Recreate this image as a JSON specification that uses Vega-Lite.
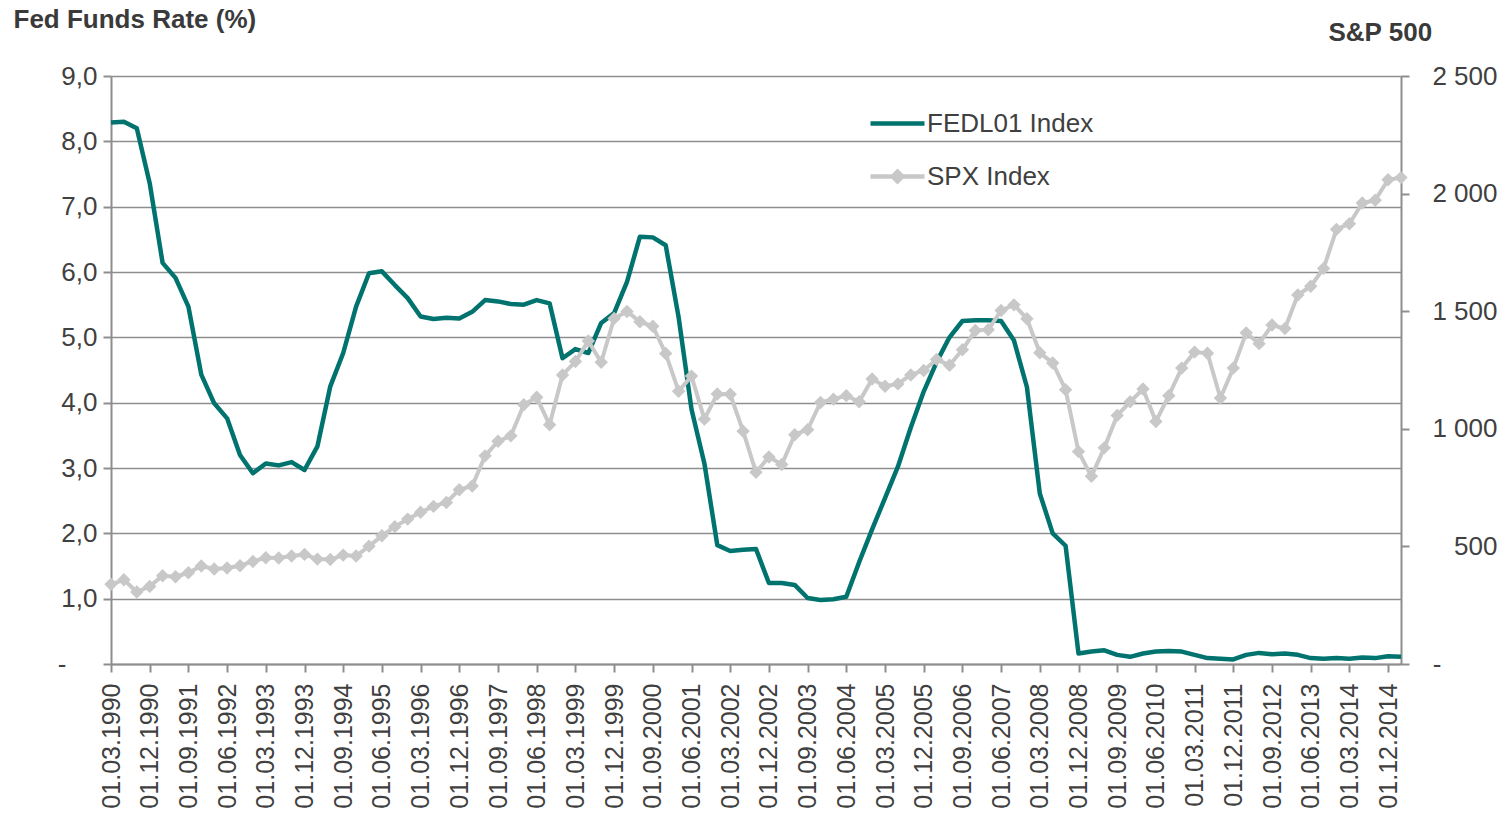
{
  "$schema": "https://vega.github.io/schema/vega-lite/v6.json",
  "autosize": "none",
  "width": 1290,
  "height": 588,
  "padding": {"left": 111, "top": 76, "right": 102, "bottom": 152},
  "background": "white",
  "config": {
    "view": {"stroke": null},
    "font": "Liberation Sans",
    "axis": {
      "labelFont": "Liberation Sans",
      "labelFontSize": 26,
      "labelColor": "#404040",
      "domainColor": "#8e8e8e",
      "domainWidth": 2,
      "tickColor": "#8e8e8e",
      "tickWidth": 2,
      "tickSize": 8,
      "gridColor": "#8e8e8e",
      "gridWidth": 1.6,
      "titleFont": "Liberation Sans",
      "titleFontSize": 26,
      "titleFontWeight": "bold",
      "titleColor": "#3a3a3a"
    },
    "legend": {
      "labelFont": "Liberation Sans",
      "labelFontSize": 26,
      "labelColor": "#404040",
      "padding": 0
    }
  },
  "data": {
    "values": [
      {"date": "01.03.1990", "fed": 8.29, "spx": 339},
      {"date": "01.06.1990", "fed": 8.30, "spx": 358},
      {"date": "01.09.1990", "fed": 8.20, "spx": 306},
      {"date": "01.12.1990", "fed": 7.36, "spx": 330},
      {"date": "01.03.1991", "fed": 6.14, "spx": 375},
      {"date": "01.06.1991", "fed": 5.91, "spx": 371},
      {"date": "01.09.1991", "fed": 5.47, "spx": 388},
      {"date": "01.12.1991", "fed": 4.43, "spx": 417},
      {"date": "01.03.1992", "fed": 3.99, "spx": 404},
      {"date": "01.06.1992", "fed": 3.76, "spx": 408},
      {"date": "01.09.1992", "fed": 3.20, "spx": 418},
      {"date": "01.12.1992", "fed": 2.92, "spx": 436},
      {"date": "01.03.1993", "fed": 3.07, "spx": 452},
      {"date": "01.06.1993", "fed": 3.04, "spx": 451},
      {"date": "01.09.1993", "fed": 3.09, "spx": 459},
      {"date": "01.12.1993", "fed": 2.97, "spx": 466},
      {"date": "01.03.1994", "fed": 3.33, "spx": 446},
      {"date": "01.06.1994", "fed": 4.25, "spx": 444},
      {"date": "01.09.1994", "fed": 4.76, "spx": 463},
      {"date": "01.12.1994", "fed": 5.47, "spx": 459},
      {"date": "01.03.1995", "fed": 5.98, "spx": 501},
      {"date": "01.06.1995", "fed": 6.01, "spx": 545},
      {"date": "01.09.1995", "fed": 5.80, "spx": 584},
      {"date": "01.12.1995", "fed": 5.60, "spx": 616},
      {"date": "01.03.1996", "fed": 5.32, "spx": 645},
      {"date": "01.06.1996", "fed": 5.28, "spx": 670},
      {"date": "01.09.1996", "fed": 5.30, "spx": 687},
      {"date": "01.12.1996", "fed": 5.29, "spx": 741},
      {"date": "01.03.1997", "fed": 5.39, "spx": 757},
      {"date": "01.06.1997", "fed": 5.57, "spx": 885},
      {"date": "01.09.1997", "fed": 5.55, "spx": 947},
      {"date": "01.12.1997", "fed": 5.51, "spx": 970},
      {"date": "01.03.1998", "fed": 5.50, "spx": 1102},
      {"date": "01.06.1998", "fed": 5.57, "spx": 1134},
      {"date": "01.09.1998", "fed": 5.52, "spx": 1017},
      {"date": "01.12.1998", "fed": 4.68, "spx": 1229},
      {"date": "01.03.1999", "fed": 4.82, "spx": 1286},
      {"date": "01.06.1999", "fed": 4.76, "spx": 1373},
      {"date": "01.09.1999", "fed": 5.22, "spx": 1283},
      {"date": "01.12.1999", "fed": 5.37, "spx": 1469},
      {"date": "01.03.2000", "fed": 5.85, "spx": 1499},
      {"date": "01.06.2000", "fed": 6.54, "spx": 1455},
      {"date": "01.09.2000", "fed": 6.53, "spx": 1436},
      {"date": "01.12.2000", "fed": 6.41, "spx": 1320},
      {"date": "01.03.2001", "fed": 5.31, "spx": 1160},
      {"date": "01.06.2001", "fed": 3.90, "spx": 1224},
      {"date": "01.09.2001", "fed": 3.07, "spx": 1041},
      {"date": "01.12.2001", "fed": 1.82, "spx": 1148},
      {"date": "01.03.2002", "fed": 1.73, "spx": 1147},
      {"date": "01.06.2002", "fed": 1.75, "spx": 990},
      {"date": "01.09.2002", "fed": 1.76, "spx": 815},
      {"date": "01.12.2002", "fed": 1.24, "spx": 880},
      {"date": "01.03.2003", "fed": 1.24, "spx": 848},
      {"date": "01.06.2003", "fed": 1.21, "spx": 975},
      {"date": "01.09.2003", "fed": 1.01, "spx": 996},
      {"date": "01.12.2003", "fed": 0.98, "spx": 1112},
      {"date": "01.03.2004", "fed": 0.99, "spx": 1126},
      {"date": "01.06.2004", "fed": 1.03, "spx": 1141},
      {"date": "01.09.2004", "fed": 1.56, "spx": 1115},
      {"date": "01.12.2004", "fed": 2.06, "spx": 1212},
      {"date": "01.03.2005", "fed": 2.54, "spx": 1181},
      {"date": "01.06.2005", "fed": 3.02, "spx": 1191},
      {"date": "01.09.2005", "fed": 3.62, "spx": 1229},
      {"date": "01.12.2005", "fed": 4.17, "spx": 1248},
      {"date": "01.03.2006", "fed": 4.62, "spx": 1295},
      {"date": "01.06.2006", "fed": 5.00, "spx": 1270},
      {"date": "01.09.2006", "fed": 5.25, "spx": 1336},
      {"date": "01.12.2006", "fed": 5.26, "spx": 1418},
      {"date": "01.03.2007", "fed": 5.26, "spx": 1421},
      {"date": "01.06.2007", "fed": 5.25, "spx": 1503},
      {"date": "01.09.2007", "fed": 4.95, "spx": 1527},
      {"date": "01.12.2007", "fed": 4.24, "spx": 1468},
      {"date": "01.03.2008", "fed": 2.61, "spx": 1323},
      {"date": "01.06.2008", "fed": 2.00, "spx": 1280},
      {"date": "01.09.2008", "fed": 1.81, "spx": 1166},
      {"date": "01.12.2008", "fed": 0.16, "spx": 903},
      {"date": "01.03.2009", "fed": 0.19, "spx": 798},
      {"date": "01.06.2009", "fed": 0.21, "spx": 919},
      {"date": "01.09.2009", "fed": 0.14, "spx": 1057},
      {"date": "01.12.2009", "fed": 0.11, "spx": 1115},
      {"date": "01.03.2010", "fed": 0.16, "spx": 1169},
      {"date": "01.06.2010", "fed": 0.19, "spx": 1031},
      {"date": "01.09.2010", "fed": 0.20, "spx": 1141},
      {"date": "01.12.2010", "fed": 0.19, "spx": 1258},
      {"date": "01.03.2011", "fed": 0.14, "spx": 1326},
      {"date": "01.06.2011", "fed": 0.09, "spx": 1321},
      {"date": "01.09.2011", "fed": 0.08, "spx": 1131},
      {"date": "01.12.2011", "fed": 0.07, "spx": 1258},
      {"date": "01.03.2012", "fed": 0.14, "spx": 1408},
      {"date": "01.06.2012", "fed": 0.17, "spx": 1362},
      {"date": "01.09.2012", "fed": 0.15, "spx": 1441},
      {"date": "01.12.2012", "fed": 0.16, "spx": 1426},
      {"date": "01.03.2013", "fed": 0.14, "spx": 1569},
      {"date": "01.06.2013", "fed": 0.09, "spx": 1606},
      {"date": "01.09.2013", "fed": 0.08, "spx": 1682},
      {"date": "01.12.2013", "fed": 0.09, "spx": 1848},
      {"date": "01.03.2014", "fed": 0.08, "spx": 1872},
      {"date": "01.06.2014", "fed": 0.10, "spx": 1960},
      {"date": "01.09.2014", "fed": 0.09, "spx": 1972},
      {"date": "01.12.2014", "fed": 0.12, "spx": 2059},
      {"date": "01.03.2015", "fed": 0.11, "spx": 2068}
    ]
  },
  "encoding": {
    "x": {
      "field": "date",
      "type": "ordinal",
      "sort": null,
      "scale": {"type": "point", "padding": 0},
      "axis": {
        "title": null,
        "labelAngle": -90,
        "labelAlign": "right",
        "labelBaseline": "middle",
        "labelFontSize": 25,
        "labelPadding": 11,
        "labelOverlap": false,
        "grid": false,
        "values": ["01.03.1990","01.12.1990","01.09.1991","01.06.1992","01.03.1993","01.12.1993","01.09.1994","01.06.1995","01.03.1996","01.12.1996","01.09.1997","01.06.1998","01.03.1999","01.12.1999","01.09.2000","01.06.2001","01.03.2002","01.12.2002","01.09.2003","01.06.2004","01.03.2005","01.12.2005","01.09.2006","01.06.2007","01.03.2008","01.12.2008","01.09.2009","01.06.2010","01.03.2011","01.12.2011","01.09.2012","01.06.2013","01.03.2014","01.12.2014"]
      }
    }
  },
  "layer": [
    {
      "mark": {"type": "line", "strokeWidth": 4.5, "strokeJoin": "round"},
      "encoding": {
        "y": {
          "field": "fed",
          "type": "quantitative",
          "scale": {"domain": [0, 9], "nice": false},
          "axis": {
            "orient": "left",
            "values": [0, 1, 2, 3, 4, 5, 6, 7, 8, 9],
            "grid": true,
            "labelPadding": {"condition": {"test": "datum.value == 0", "value": 37}, "value": 6},
            "labelExpr": "datum.value == 0 ? '-' : replace(format(datum.value, '.1f'), '.', ',')",
            "title": "Fed Funds Rate (%)",
            "titleAngle": 0,
            "titleAlign": "left",
            "titleBaseline": "alphabetic",
            "titleX": -98,
            "titleY": -49
          }
        },
        "color": {
          "datum": "FEDL01 Index",
          "type": "nominal",
          "scale": {"domain": ["FEDL01 Index", "SPX Index"], "range": ["#00736F", "#C8C8C8"]},
          "legend": {
            "title": null,
            "orient": "none",
            "legendX": 757,
            "legendY": 18,
            "symbolSize": 2916,
            "symbolStrokeWidth": 4.5,
            "labelOffset": 0,
            "labelLimit": 0,
            "rowPadding": 10,
            "encode": {
              "symbols": {
                "update": {
                  "shape": {"signal": "datum.value === 'SPX Index' ? 'M-1,0L1,0M-0.18,0L0,-0.18L0.18,0L0,0.18Z' : 'M-1,0L1,0'"},
                  "fill": {"signal": "datum.value === 'SPX Index' ? '#C8C8C8' : 'transparent'"}
                }
              }
            }
          }
        }
      }
    },
    {
      "layer": [
        {
          "mark": {"type": "line", "strokeWidth": 4, "strokeJoin": "round"},
          "encoding": {
            "y": {
              "field": "spx",
              "type": "quantitative",
              "scale": {"domain": [0, 2500], "nice": false},
              "axis": {
                "orient": "right",
                "values": [0, 500, 1000, 1500, 2000, 2500],
                "grid": false,
                "labelAlign": "right",
                "labelPadding": {"condition": {"test": "datum.value == 0", "value": 32}, "value": 88},
                "labelExpr": "datum.value == 0 ? '-' : replace(format(datum.value, ','), ',', ' ')",
                "title": "S&P 500",
                "titleAngle": 0,
                "titleAlign": "left",
                "titleBaseline": "alphabetic",
                "titleX": -73,
                "titleY": -36
              }
            },
            "color": {"datum": "SPX Index", "type": "nominal"}
          }
        },
        {
          "mark": {"type": "point", "shape": "diamond", "filled": true, "size": 180, "opacity": 1, "color": "#C8C8C8"},
          "encoding": {
            "y": {"field": "spx", "type": "quantitative"}
          }
        }
      ]
    }
  ],
  "resolve": {"scale": {"y": "independent"}}
}
